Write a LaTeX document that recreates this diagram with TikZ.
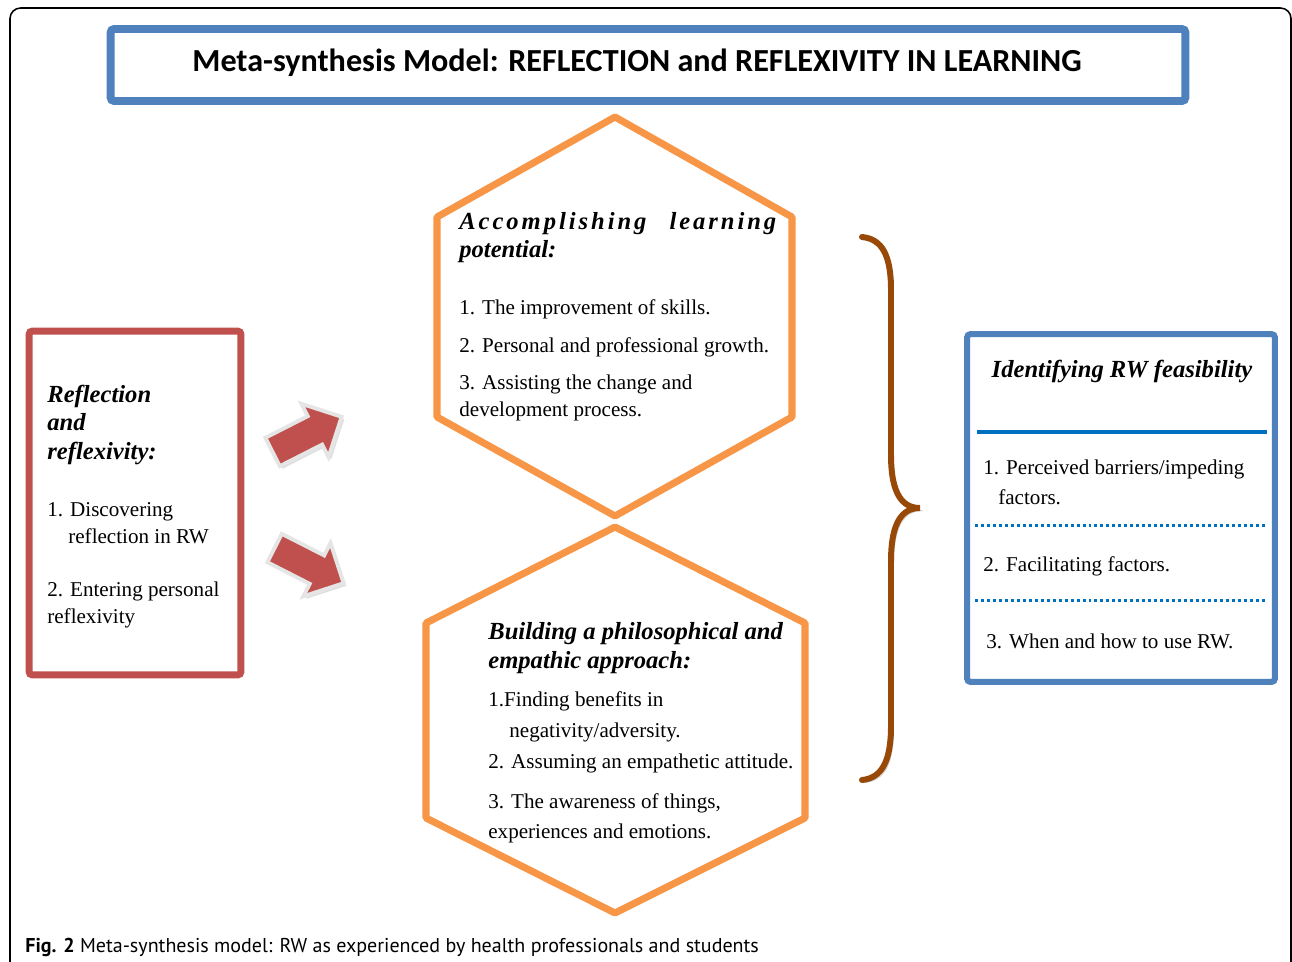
\documentclass[tikz,border=0pt]{standalone}
\usepackage{fontspec}
\setmainfont{Liberation Serif}
\newfontfamily\titlefont{Carlito}
\newfontfamily\capfont{PT Sans}
\usetikzlibrary{shapes.arrows,shadows}

\definecolor{boxblue}{HTML}{4F81BD}
\definecolor{boxred}{HTML}{C0504D}
\definecolor{hexorange}{HTML}{F79646}
\definecolor{bracebrown}{HTML}{984807}
\definecolor{ruleblue}{HTML}{0070C0}

\begin{document}
\begin{tikzpicture}[x=0.02cm, y=-0.02cm,
    txt/.style={anchor=base west, inner sep=0pt, font=\fontsize{12}{14}\selectfont},
    head/.style={anchor=base west, inner sep=0pt, font=\fontsize{14}{16}\selectfont\bfseries\itshape},
    hexline/.style={draw=hexorange, line width=4pt, line join=round},
    frame/.style={draw=#1, line width=4pt, rounded corners=2pt},
    redarrow/.style={single arrow, fill=boxred, draw=white!90!black, line width=2.2pt,
        inner sep=0.28cm, single arrow head extend=0.28cm, minimum height=1.55cm,
        drop shadow={opacity=0.25, shadow xshift=1.5pt, shadow yshift=-1.5pt}}]
    \useasboundingbox (0,0) rectangle (1292,961);

    % Outer frame
    \begin{scope}
      \clip (0,0) rectangle (1292,961);
      \draw[line width=0.9pt, rounded corners=6pt] (10,8) rectangle (1291,1010);
    \end{scope}

    % Boxes
    \node[frame=boxblue, line width=4.5pt, minimum width=21.5cm, minimum height=1.44cm] (titlebox) at (648,65) {};
    \node[frame=boxred, minimum width=4.24cm, minimum height=6.88cm] (reflbox) at (135,503) {};
    \node[frame=boxblue, line width=3.4pt, minimum width=6.16cm, minimum height=6.96cm] (feasbox) at (1121,508) {};

    % Hexagons
    \draw[hexline] (615,117) -- (437,217) -- (437,417) -- (615,516) -- (792,417) -- (792,217) -- cycle;
    \draw[hexline] (615,527) -- (426,623) -- (426,818) -- (615,913) -- (805,818) -- (805,623) -- cycle;

    % Arrows
    \node[redarrow, rotate=27] (arrowup) at (300,438) {};
    \node[redarrow, rotate=-27] (arrowdown) at (302,562) {};

    % Brace
    \draw[bracebrown, line width=3.4pt, line cap=round,
          preaction={draw, black, opacity=0.2, transform canvas={shift={(1.5pt,-1.5pt)}}}]
      (862,237) .. controls (882,239) and (891,255) .. (891,290) -- (891,455)
      .. controls (891,495) and (903,508) .. (920,508)
      .. controls (903,508) and (891,521) .. (891,561) -- (891,726)
      .. controls (891,761) and (882,778) .. (862,780);

    % Rules in feasibility box
    \draw[ruleblue, line width=1.8pt] (977,432) -- (1267,432);
    \draw[ruleblue, line width=1.7pt, dash pattern=on 1.7pt off 1.7pt] (975,525) -- (1265,525);
    \draw[ruleblue, line width=1.7pt, dash pattern=on 1.7pt off 1.7pt] (975,600) -- (1265,600);

    % Title
    \node[font=\titlefont\bfseries\fontsize{18.3}{20}\selectfont] (title) at (637,63)
      {Meta-synthesis Model: REFLECTION and REFLEXIVITY IN LEARNING};

    % Left box text
    \node[head] (r1) at (47,402) {Reflection};
    \node[head] (r2) at (47,430) {and};
    \node[head] (r3) at (47,459) {reflexivity:};
    \node[txt] (r4) at (47,516) {1. Discovering};
    \node[txt] (r5) at (68,543) {reflection in RW};
    \node[txt] (r6) at (47,596) {2. Entering personal};
    \node[txt] (r7) at (47,623) {reflexivity};

    % Upper hexagon text
    \node[head] (a1) at (459,229) {\hbox to 6.34cm{\addfontfeature{LetterSpace=12}Accomplishing\hfil learning}};
    \node[head] (a2) at (459,257) {potential:};
    \node[txt] (a3) at (459,314) {1. The improvement of skills.};
    \node[txt] (a4) at (459,352) {2. Personal and professional growth.};
    \node[txt] (a5) at (459,389) {3. Assisting the change and};
    \node[txt] (a6) at (459,416) {development process.};

    % Lower hexagon text
    \node[head] (b1) at (488,639) {Building a philosophical and};
    \node[head] (b2) at (488,668) {empathic approach:};
    \node[txt] (b3) at (488,706) {1.Finding benefits in};
    \node[txt] (b4) at (509,737) {negativity/adversity.};
    \node[txt] (b5) at (488,768) {2. Assuming an empathetic attitude.};
    \node[txt] (b6) at (488,808) {3. The awareness of things,};
    \node[txt] (b7) at (488,838) {experiences and emotions.};

    % Right box text
    \node[head, anchor=base] (f1) at (1122,377) {Identifying RW feasibility};
    \node[txt] (f2) at (983,474) {1. Perceived barriers/impeding};
    \node[txt] (f3) at (998,504) {factors.};
    \node[txt] (f4) at (983,571) {2. Facilitating factors.};
    \node[txt] (f5) at (986,648) {3. When and how to use RW.};

    % Caption
    \node[anchor=base west, inner sep=0pt, font=\capfont\fontsize{11.4}{13}\selectfont] (caption) at (25,952)
      {\textbf{Fig. 2} Meta-synthesis model: RW as experienced by health professionals and students};
\end{tikzpicture}
\end{document}
